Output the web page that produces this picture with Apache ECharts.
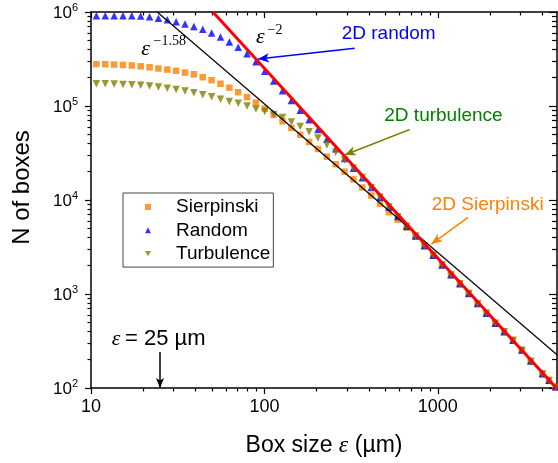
<!DOCTYPE html>
<html><head><meta charset="utf-8">
<script src="https://cdn.jsdelivr.net/npm/echarts@6/dist/echarts.min.js"></script>
<style>html,body{margin:0;padding:0;background:#fff}#c{width:558px;height:463px}</style>
</head><body><div id="c"></div>
<script>
// ---- data ----
const boxSize = [10.74, 12.08, 13.59, 15.29, 17.20, 19.35, 21.77, 24.48, 27.54, 30.98, 34.85, 39.20, 44.10, 49.62, 55.82, 62.79, 70.63, 79.43, 89.37, 100.5, 113.1, 127.2, 143.1, 161.0, 181.1, 203.7, 229.2, 257.8, 290.0, 326.3, 367.0, 412.8, 464.4, 522.4, 587.7, 661.1, 743.7, 836.6, 941.0, 1058, 1191, 1340, 1507, 1695, 1907, 2145, 2413, 2714, 3053, 3435, 4011, 4379, 4786];
const sierpinski = [2.79e5, 2.785e5, 2.757e5, 2.731e5, 2.698e5, 2.645e5, 2.582e5, 2.507e5, 2.441e5, 2.370e5, 2.269e5, 2.176e5, 2.023e5, 1.881e5, 1.726e5, 1.566e5, 1.403e5, 1.242e5, 1.086e5, 9.38e4, 8.04e4, 6.87e4, 5.83e4, 4.94e4, 4.14e4, 3.49e4, 2.89e4, 2.40e4, 2.00e4, 1.66e4, 1.358e4, 1.115e4, 9130, 7420, 6180, 5080, 4130, 3250, 2570, 2030, 1590, 1280, 1010, 785, 620, 485, 394, 320, 250, 192, 141, 119, 101];
const random = [9.14e5, 9.15e5, 9.13e5, 9.14e5, 9.12e5, 9.07e5, 8.89e5, 8.58e5, 8.27e5, 7.87e5, 7.46e5, 7.02e5, 6.56e5, 5.99e5, 5.43e5, 4.81e5, 4.21e5, 3.59e5, 2.95e5, 2.34e5, 1.84e5, 1.45e5, 1.146e5, 9.02e4, 7.14e4, 5.62e4, 4.44e4, 3.50e4, 2.76e4, 2.18e4, 1.72e4, 1.355e4, 1.072e4, 8440, 6660, 5260, 4150, 3260, 2590, 2035, 1600, 1286, 1015, 790, 625, 488, 397, 323, 253, 194, 142, 121, 103];
const turbulence = [1.726e5, 1.726e5, 1.714e5, 1.697e5, 1.685e5, 1.664e5, 1.632e5, 1.597e5, 1.547e5, 1.502e5, 1.444e5, 1.386e5, 1.320e5, 1.251e5, 1.177e5, 1.118e5, 1.067e5, 9.97e4, 9.31e4, 8.72e4, 8.10e4, 7.53e4, 6.75e4, 6.05e4, 5.31e4, 4.57e4, 3.85e4, 3.22e4, 2.67e4, 2.18e4, 1.73e4, 1.35e4, 1.07e4, 8420, 6640, 5250, 4140, 3250, 2580, 2030, 1595, 1283, 1012, 788, 623, 487, 396, 322, 252, 193, 142, 120, 102];
const fit158X = [24.09, 4870];
const fit158N = [1e6, 226];
const fit2X = [50.5, 4831];
const fit2N = [1e6, 100];
const xMajorTicks = [10, 100, 1000];
const xMinorTicks = [20, 30, 40, 50, 60, 70, 80, 90, 200, 300, 400, 500, 600, 700, 800, 900, 2000, 3000, 4000];
const yMajorTicks = [100, 1000, 10000, 100000, 1000000];
const yMinorTicks = [200, 300, 400, 500, 600, 700, 800, 900, 2000, 3000, 4000, 5000, 6000, 7000, 8000, 9000, 20000, 30000, 40000, 50000, 60000, 70000, 80000, 90000, 200000, 300000, 400000, 500000, 600000, 700000, 800000, 900000];
const seriesNames = ['Sierpinski', 'Random', 'Turbulence'];
// annotation arrows: [fromX, fromN, toX, toN]
const arrowRandom = [331.8, 4.125e5, 91.9, 3.154e5];
const arrowTurb = [688.7, 5.62e4, 290.5, 3.016e4];
const arrowSierp = [1494, 6520, 918.8, 3398];
const arrowRes = [25, 242, 25, 100];

// ---- chart ----
const SANS = 'Arial, "Liberation Sans", sans-serif';
const SERIF = '"Times New Roman", "Liberation Serif", serif';
const XMIN = 10, XMAX = 4870, YMIN = 100, YMAX = 1e6;
const pairs = (xs, ys) => xs.map((x, i) => [x, ys[i]]);
const blackLine = { color: '#000', width: 1.5 };
const tickStyle = { color: '#000', width: 1.2 };

function xAxisDef(pos, inside, len, ticks, main) {
  return {
    type: 'log', logBase: 10, min: XMIN, max: XMAX, position: pos, gridIndex: 0,
    axisLine: { show: !!main, onZero: false, lineStyle: blackLine },
    axisTick: { show: true, inside: inside, length: len, lineStyle: tickStyle, customValues: ticks },
    axisLabel: main === 'label' ? {
      show: true, customValues: xMajorTicks, fontSize: 18, fontFamily: SANS, color: '#000', margin: 10,
      formatter: v => String(Math.round(v))
    } : { show: false },
    splitLine: { show: false }, minorTick: { show: false }
  };
}
function yAxisDef(pos, inside, len, ticks, main) {
  return {
    type: 'log', logBase: 10, min: YMIN, max: YMAX, position: pos, gridIndex: 0,
    axisLine: { show: !!main, onZero: false, lineStyle: blackLine },
    axisTick: { show: true, inside: inside, length: len, lineStyle: tickStyle, customValues: ticks },
    axisLabel: main === 'label' ? {
      show: true, customValues: yMajorTicks, margin: 13, color: '#000',
      formatter: v => '{b|10}{s|' + Math.round(Math.log10(v)) + '}',
      rich: {
        b: { fontSize: 17, fontFamily: SANS, color: '#000', verticalAlign: 'bottom', lineHeight: 17 },
        s: { fontSize: 11, fontFamily: SANS, color: '#000', verticalAlign: 'bottom', padding: [0, 0, 9, 0] }
      }
    } : { show: false },
    splitLine: { show: false }, minorTick: { show: false }
  };
}

const xAxes = [
  xAxisDef('bottom', false, 6, xMajorTicks, 'label'),
  xAxisDef('top', true, 6, xMajorTicks, 'line'),
  xAxisDef('bottom', false, 3.5, xMinorTicks, null),
  xAxisDef('top', true, 3.5, xMinorTicks, null)
];
Object.assign(xAxes[0], {
  name: '{a|Box size }{e|ε}{a| (µm)}', nameLocation: 'middle', nameGap: 46,
  nameTextStyle: { rich: {
    a: { fontSize: 23, fontFamily: SANS, color: '#000' },
    e: { fontSize: 24, fontFamily: SERIF, fontStyle: 'italic', color: '#000' }
  } }
});
const yAxes = [
  yAxisDef('left', false, 6, yMajorTicks, 'label'),
  yAxisDef('right', true, 8, yMajorTicks, 'line'),
  yAxisDef('left', false, 3.5, yMinorTicks, null),
  yAxisDef('right', true, 5, yMinorTicks, null)
];
Object.assign(yAxes[0], {
  name: 'N of boxes', nameLocation: 'middle', nameRotate: 90, nameGap: 57,
  nameTextStyle: { fontSize: 24, fontFamily: SANS, color: '#000', padding: [0, 0, 0, 25] }
});

function arrow(a, color, size) {
  return [
    { coord: [a[0], a[1]], symbol: 'none', lineStyle: { color: color, width: 1.5, type: 'solid' } },
    { coord: [a[2], a[3]], symbol: 'arrow', symbolSize: size }
  ];
}

const option = {
  animation: false,
  backgroundColor: '#fff',
  grid: { left: 91, right: 1, top: 12, bottom: 73.5, containLabel: false },
  xAxis: xAxes,
  yAxis: yAxes,
  legend: {
    data: [
      { name: seriesNames[0], icon: 'rect' },
      { name: seriesNames[1], icon: 'triangle' },
      { name: seriesNames[2], icon: 'path://M0,0L10,0L5,8.7Z' }
    ],
    orient: 'vertical', left: 123, top: 193,
    itemWidth: 6, itemHeight: 6, itemGap: 4.3,
    padding: [4.5, 3, 4, 22], borderColor: '#444', borderWidth: 1,
    selectedMode: false,
    textStyle: { fontSize: 19, fontFamily: SANS, color: '#000', lineHeight: 19, padding: [0, 0, 0, 20] }
  },
  series: [
    { name: seriesNames[0], type: 'scatter', symbol: 'rect', symbolSize: 6.5, z: 2,
      itemStyle: { color: '#FF8000' }, data: pairs(boxSize, sierpinski) },
    { name: seriesNames[1], type: 'scatter', symbol: 'triangle', symbolSize: 7.5, z: 2,
      itemStyle: { color: '#0000FF' }, data: pairs(boxSize, random) },
    { name: seriesNames[2], type: 'scatter', symbol: 'triangle', symbolRotate: 180, symbolSize: 7.5, z: 2,
      itemStyle: { color: '#808000' }, data: pairs(boxSize, turbulence) },
    { name: 'fit158', type: 'line', showSymbol: false, z: 3, silent: true,
      lineStyle: { color: '#000', width: 1.2 }, data: pairs(fit158X, fit158N) },
    { name: 'fit2', type: 'line', showSymbol: false, z: 3, silent: true,
      lineStyle: { color: '#FF0000', width: 3 }, data: pairs(fit2X, fit2N) },
    { name: 'notes', type: 'line', data: [], z: 4, silent: true,
      markLine: {
        silent: true, animation: false, label: { show: false },
        symbol: ['none', 'arrow'],
        data: [
          arrow(arrowRandom, '#0000FF', [7, 11]),
          arrow(arrowTurb, '#808000', [7, 11]),
          arrow(arrowSierp, '#FF8000', [7, 11]),
          arrow(arrowRes, '#000', [6, 10])
        ]
      } }
  ],
  graphic: [
    { type: 'text', x: 141.3, y: 49.1, style: { text: 'ε', font: 'italic 22px ' + SERIF, fill: '#000', align: 'left', verticalAlign: 'middle' } },
    { type: 'text', x: 153.5, y: 41, style: { text: '−1.58', font: '14px ' + SERIF, fill: '#000', align: 'left', verticalAlign: 'middle' } },
    { type: 'text', x: 256, y: 37.6, style: { text: 'ε', font: 'italic 22px ' + SERIF, fill: '#000', align: 'left', verticalAlign: 'middle' } },
    { type: 'text', x: 267.5, y: 30.3, style: { text: '−2', font: '14px ' + SERIF, fill: '#000', align: 'left', verticalAlign: 'middle' } },
    { type: 'text', x: 341.7, y: 34.1, style: { text: '2D random', font: '19px ' + SANS, fill: '#0000FF', align: 'left', verticalAlign: 'middle' } },
    { type: 'text', x: 384.3, y: 116.1, style: { text: '2D turbulence', font: '19px ' + SANS, fill: '#008000', align: 'left', verticalAlign: 'middle' } },
    { type: 'text', x: 431.7, y: 204.4, style: { text: '2D Sierpinski', font: '19px ' + SANS, fill: '#FF8000', align: 'left', verticalAlign: 'middle' } },
    { type: 'text', x: 111.7, y: 339.1, style: { text: 'ε', font: 'italic 22px ' + SERIF, fill: '#000', align: 'left', verticalAlign: 'middle' } },
    { type: 'text', x: 125, y: 338.9, style: { text: '= 25 µm', font: '22px ' + SANS, fill: '#000', align: 'left', verticalAlign: 'middle' } }
  ]
};
const chart = echarts.init(document.getElementById('c'), null, { renderer: 'canvas' });
chart.setOption(option);
</script>
</body></html>
